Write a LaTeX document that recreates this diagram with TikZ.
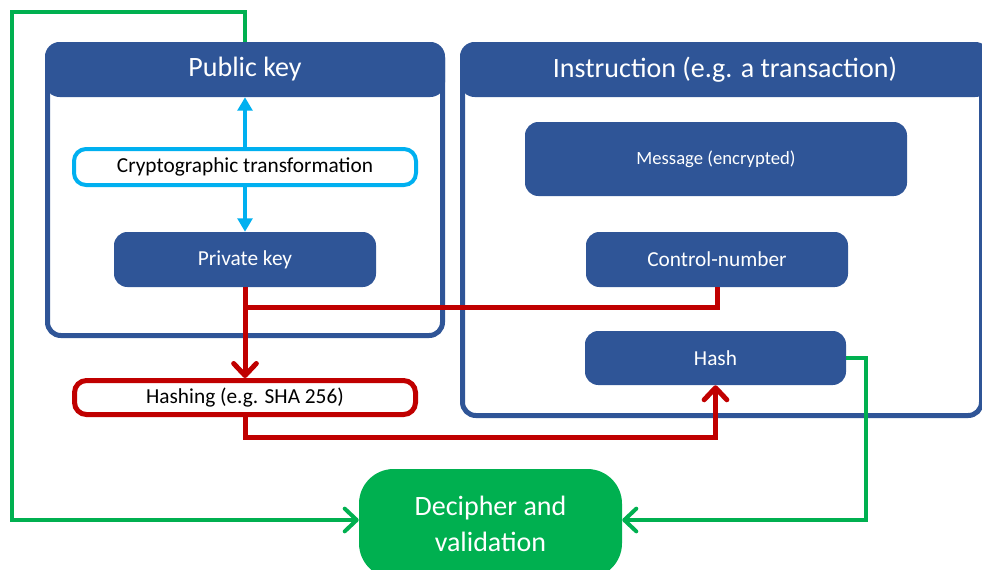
\documentclass[tikz,border=0pt]{standalone}
\usepackage{fontspec}
\setmainfont{Carlito}
\usetikzlibrary{arrows.meta}
\definecolor{dblue}{HTML}{2F5597}
\definecolor{ccyan}{HTML}{00B0F0}
\definecolor{dred}{HTML}{C00000}
\definecolor{ggreen}{HTML}{00B050}
\begin{document}
\begin{tikzpicture}[x=0.75pt,y=-0.75pt,
  frame/.style={draw=dblue,line width=3.75pt,rounded corners=10pt,inner sep=0},
  head/.style={fill=dblue,text=white,rounded corners=11pt,inner sep=0,font=\fontsize{21}{25}\selectfont},
  bluebox/.style={fill=dblue,text=white,rounded corners=10pt,inner sep=0,font=\fontsize{16}{19}\selectfont},
  cyanbox/.style={draw=ccyan,line width=3pt,fill=white,rounded corners=9pt,inner sep=0,font=\fontsize{16}{19}\selectfont},
  redbox/.style={draw=dred,line width=3.75pt,fill=white,rounded corners=9pt,inner sep=0,font=\fontsize{16}{19}\selectfont},
  greenbox/.style={fill=ggreen,text=white,rounded corners=26pt,inner sep=0,align=center,font=\fontsize{21}{27}\selectfont},
  cyanline/.style={draw=ccyan,line width=3pt,-{Triangle[length=10pt,width=11pt]}},
  redline/.style={draw=dred,line width=3.75pt},
  redarrow/.style={redline,-{Straight Barb[round,length=9pt,width=17pt]}},
  greenline/.style={draw=ggreen,line width=3pt,-{Straight Barb[round,length=9pt,width=17pt]}}
]
\useasboundingbox (0,0) rectangle (982,569);

% containers
\node[frame,minimum width=296.25pt,minimum height=218.25pt] (pkframe) at (245,190) {};
\node[head,minimum width=300pt,minimum height=41.25pt] (pkhead) at (245,69.5) {Public key};
\node[frame,minimum width=389.25pt,minimum height=278.25pt] (inframe) at (722,230) {};
\node[head,minimum width=397.5pt,minimum height=41.25pt] (inhead) at (725,69.5) {Instruction (e.g. a transaction)};

% inner boxes
\node[cyanbox,minimum width=256.5pt,minimum height=27pt] (crypto) at (245,167) {Cryptographic transformation};
\node[bluebox,minimum width=196.5pt,minimum height=41.25pt] (pk) at (245,259.5) {Private key};
\node[bluebox,font=\fontsize{14}{17}\selectfont,minimum width=286.5pt,minimum height=55.5pt] (msg) at (716,159) {Message (encrypted)};
\node[bluebox,minimum width=196.5pt,minimum height=41.25pt] (cn) at (717,259.5) {Control-number};
\node[bluebox,minimum width=195.75pt,minimum height=40.5pt] (hash) at (715.5,358) {Hash};
\node[redbox,minimum width=255.75pt,minimum height=25.5pt] (hashing) at (245,397.5) {Hashing (e.g. SHA 256)};
\node[greenbox,minimum width=197.25pt,minimum height=81.75pt] (dec) at (490.5,523.5) {Decipher and\\validation};

% helper coordinates
\coordinate (j1) at (245,307);
\coordinate (r1) at (245,437);
\coordinate (g1) at (12,12);
\coordinate (g2) at (12,520);
\coordinate (g3) at (866,358);
\coordinate (g4) at (866,520);

% cyan
\draw[cyanline] (crypto.north) -- (pkhead.south);
\draw[cyanline] (crypto.south) -- (pk.north);

% red
\draw[redline] (cn.south) |- (j1);
\draw[redarrow] (pk.south) -- (hashing.north);
\draw[redarrow] (hashing.south) -- (r1) -| (hash.south);

% green
\draw[greenline] (pkhead.north) |- (g1) -- (g2) -- (g2 -| dec.west);
\draw[greenline] (hash.east) -- (g3) -- (g4) -- (g4 -| dec.east);
\end{tikzpicture}
\end{document}
